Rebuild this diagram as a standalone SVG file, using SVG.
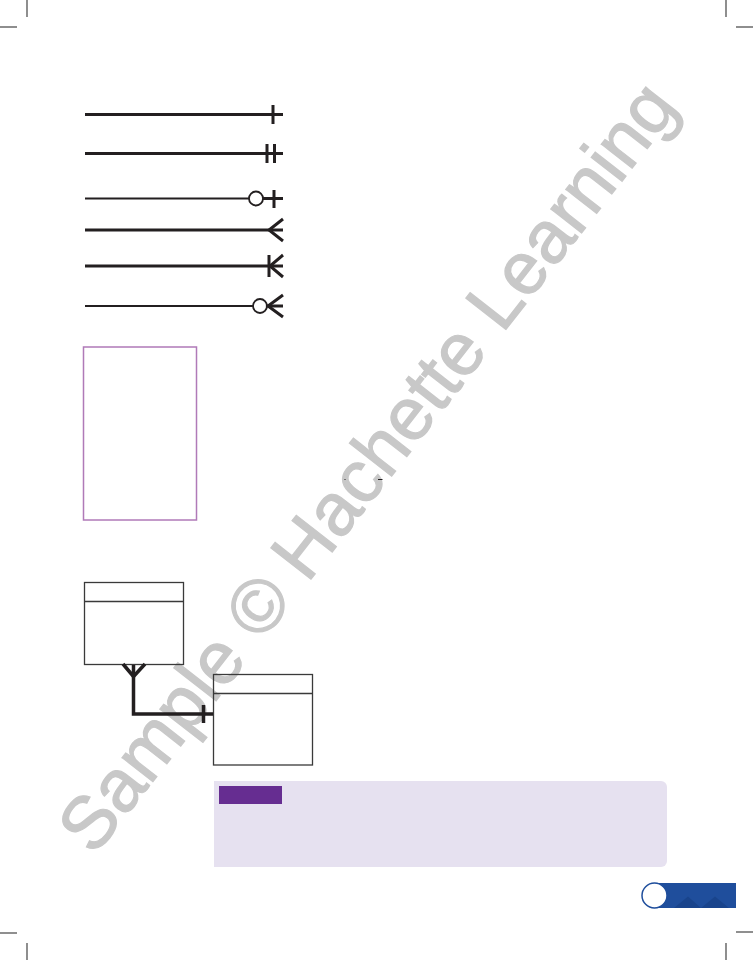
<svg xmlns="http://www.w3.org/2000/svg" width="753" height="960" viewBox="0 0 753 960">
<style>
.thick{stroke:#231f20;stroke-width:3;fill:none;stroke-linecap:butt}
.thin{stroke:#231f20;stroke-width:2;fill:none}
.bar{stroke:#231f20;stroke-width:3;fill:none}
.circ{stroke:#231f20;stroke-width:1.8;fill:#fff}
.ent{stroke:#3a3a3a;stroke-width:1.3;fill:none}
.crop{stroke:#444;stroke-width:1.2;fill:none}
.conn{stroke:#231f20;stroke-width:3.5;fill:none}
</style>
<rect width="753" height="960" fill="#fff"/>
<g id="watermark">
<text x="94" y="857" transform="rotate(-52 94 857)" font-family="Liberation Sans, Arial, sans-serif" font-size="74" fill="#c8c8c8" stroke="#c8c8c8" stroke-width="1.2">Sample © Hachette Learning</text>
</g>
<g id="crop-marks">
<line class="crop" x1="27" y1="0" x2="27" y2="17"/>
<line class="crop" x1="0" y1="27" x2="17" y2="27"/>
<line class="crop" x1="726" y1="0" x2="726" y2="17"/>
<line class="crop" x1="736" y1="27" x2="753" y2="27"/>
<line class="crop" x1="0" y1="933" x2="17" y2="933"/>
<line class="crop" x1="27" y1="943" x2="27" y2="960"/>
<line class="crop" x1="736" y1="932" x2="753" y2="932"/>
<line class="crop" x1="726" y1="943" x2="726" y2="960"/>
</g>
<g id="symbol-one">
<line class="thick" x1="85" y1="114.5" x2="283" y2="114.5"/>
<line class="bar" x1="273" y1="105" x2="273" y2="124"/>
</g>
<g id="symbol-one-mandatory">
<line class="thick" x1="85" y1="153.5" x2="283" y2="153.5"/>
<line class="bar" x1="267" y1="144" x2="267" y2="163"/>
<line class="bar" x1="274.5" y1="144" x2="274.5" y2="163"/>
</g>
<g id="symbol-zero-or-one">
<line class="thin" x1="85" y1="198.5" x2="249" y2="198.5"/>
<circle class="circ" cx="256" cy="198.5" r="7"/>
<line class="bar" x1="263" y1="198.5" x2="283" y2="198.5"/>
<line class="bar" x1="274" y1="190" x2="274" y2="208"/>
</g>
<g id="symbol-many">
<line class="thick" x1="85" y1="230" x2="283" y2="230"/>
<polyline class="thick" points="283,219 269,230 283,241"/>
</g>
<g id="symbol-one-or-many">
<line class="thick" x1="85" y1="266" x2="283" y2="266"/>
<polyline class="thick" points="283,255 270,266 283,277"/>
<line class="bar" x1="269" y1="255" x2="269" y2="277"/>
</g>
<g id="symbol-zero-or-many">
<line class="thin" x1="85" y1="306" x2="253" y2="306"/>
<circle class="circ" cx="260" cy="306" r="7"/>
<line class="thick" x1="267" y1="306" x2="283" y2="306"/>
<polyline class="thick" points="283,295 268,306 283,317"/>
</g>
<g id="purple-box">
<rect x="83.5" y="347" width="113" height="173" fill="none" stroke="#b07ab8" stroke-width="1.5"/>
</g>
<g id="marks">
<rect x="344.5" y="479" width="1" height="1" fill="#231f20"/>
<line x1="378" y1="479.5" x2="382.5" y2="479.5" stroke="#231f20" stroke-width="1"/>
</g>
<g id="entity-1">
<rect class="ent" x="84.5" y="582.5" width="99" height="82"/>
<line class="ent" x1="84.5" y1="601.5" x2="183.5" y2="601.5"/>
</g>
<g id="entity-2">
<rect class="ent" x="213.5" y="674.5" width="99" height="90.5"/>
<line class="ent" x1="213.5" y1="693.5" x2="312.5" y2="693.5"/>
</g>
<g id="connectors">
<polyline class="conn" points="123,664 133.5,676.5 145,664"/>
<polyline class="conn" points="133.5,665 133.5,714 213,714"/>
<line class="conn" x1="203.5" y1="705" x2="203.5" y2="723"/>
</g>
<g id="note-box">
<path d="M214,781 H661 A6,6 0 0 1 667,787 V861 A6,6 0 0 1 661,867 H214 Z" fill="#e6e1f0"/>
<rect x="219" y="786" width="63" height="18" fill="#662d91"/>
</g>
<g id="page-badge">
<rect x="652" y="883" width="84" height="25" fill="#1f4e9c"/>
<polygon points="674,908 688,896.5 701,908 715,896.5 729,908" fill="#19448c"/>
<circle cx="654.5" cy="895.5" r="12.5" fill="#fff" stroke="#1f4e9c" stroke-width="1.5"/>
</g>
</svg>
